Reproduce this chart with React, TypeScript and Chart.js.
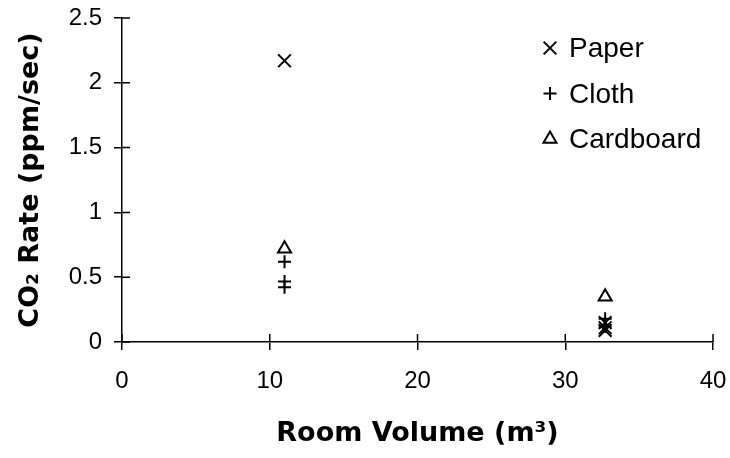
import React, { useEffect, useRef } from "react";
import { Chart, registerables } from "chart.js";

Chart.register(...registerables);

// Data
const paperX = [11.0, 32.7, 32.7, 32.7];
const paperY = [2.17, 0.15, 0.11, 0.09];
const clothX = [11.0, 11.0, 11.0, 32.7, 32.7];
const clothY = [0.62, 0.467, 0.423, 0.18, 0.12];
const cardboardX = [11.0, 32.7];
const cardboardY = [0.72, 0.35];

const seriesLabels = ["Paper", "Cloth", "Cardboard"];
const xTicks = [0, 10, 20, 30, 40];
const yTicks = [0, 0.5, 1, 1.5, 2, 2.5];

const FONT = "'Liberation Sans', Arial, sans-serif";
const TITLE_FONT = "'DejaVu Sans', 'Liberation Sans', Arial, sans-serif";

function pts(xs: number[], ys: number[]) {
  return xs.map((x, i) => ({ x, y: ys[i] }));
}

function drawMarker(ctx: CanvasRenderingContext2D, style: string, x: number, y: number, r: number) {
  ctx.beginPath();
  if (style === "crossRot") {
    const o = Math.cos(Math.PI / 4) * r;
    ctx.moveTo(x - o, y - o);
    ctx.lineTo(x + o, y + o);
    ctx.moveTo(x + o, y - o);
    ctx.lineTo(x - o, y + o);
  } else if (style === "cross") {
    ctx.moveTo(x - r, y);
    ctx.lineTo(x + r, y);
    ctx.moveTo(x, y - r);
    ctx.lineTo(x, y + r);
  } else {
    let rad = 0;
    ctx.moveTo(x + Math.sin(rad) * r, y - Math.cos(rad) * r);
    rad += (2 * Math.PI) / 3;
    ctx.lineTo(x + Math.sin(rad) * r, y - Math.cos(rad) * r);
    rad += (2 * Math.PI) / 3;
    ctx.lineTo(x + Math.sin(rad) * r, y - Math.cos(rad) * r);
    ctx.closePath();
  }
  ctx.stroke();
}

const innerTicks = {
  id: "innerTicks",
  afterDraw(chart: any) {
    const ctx = chart.ctx;
    const x = chart.scales.x;
    const y = chart.scales.y;
    const area = chart.chartArea;
    ctx.save();
    ctx.strokeStyle = "#000";
    ctx.lineWidth = 1.5;
    ctx.beginPath();
    xTicks.forEach((v) => {
      const px = x.getPixelForValue(v);
      ctx.moveTo(px, area.bottom);
      ctx.lineTo(px, area.bottom - 8);
    });
    yTicks.forEach((v) => {
      const py = y.getPixelForValue(v);
      ctx.moveTo(area.left, py);
      ctx.lineTo(area.left + 8, py);
    });
    ctx.stroke();
    ctx.restore();
  },
};

const customLegend = {
  id: "customLegend",
  afterDraw(chart: any) {
    const ctx = chart.ctx;
    ctx.save();
    ctx.fillStyle = "#000";
    ctx.strokeStyle = "#000";
    ctx.lineWidth = 2;
    ctx.font = `28px ${FONT}`;
    ctx.textAlign = "left";
    ctx.textBaseline = "alphabetic";
    const baseY = 57;
    const gap = 45.5;
    chart.data.datasets.forEach((ds: any, i: number) => {
      const by = baseY + i * gap;
      const style = ds.pointStyle;
      const r = style === "crossRot" ? 9 : style === "cross" ? 6.5 : 7.5;
      drawMarker(ctx, style, 550, by - 9, r);
      ctx.fillText(ds.label, 569, by);
    });
    ctx.restore();
  },
};

export default function App() {
  const ref = useRef<HTMLCanvasElement | null>(null);
  useEffect(() => {
    if (!ref.current) return;
    const chart = new Chart(ref.current, {
      type: "scatter",
      data: {
        datasets: [
          {
            label: seriesLabels[0],
            data: pts(paperX, paperY),
            pointStyle: "crossRot",
            pointRadius: 9,
            borderColor: "#000",
            backgroundColor: "rgba(0,0,0,0)",
            borderWidth: 2,
          },
          {
            label: seriesLabels[1],
            data: pts(clothX, clothY),
            pointStyle: "cross",
            pointRadius: 6.5,
            borderColor: "#000",
            backgroundColor: "rgba(0,0,0,0)",
            borderWidth: 2,
          },
          {
            label: seriesLabels[2],
            data: pts(cardboardX, cardboardY),
            pointStyle: "triangle",
            pointRadius: 7.5,
            borderColor: "#000",
            backgroundColor: "rgba(0,0,0,0)",
            borderWidth: 2,
          },
        ],
      },
      options: {
        responsive: false,
        animation: false,
        layout: { padding: { top: 18, right: 17, left: 0, bottom: 0 } },
        plugins: {
          legend: { display: false },
          tooltip: { enabled: false },
        },
        scales: {
          x: {
            type: "linear",
            min: 0,
            max: 40,
            afterFit: (s: any) => {
              s.height = 116;
              s.paddingLeft = 0;
              s.paddingRight = 0;
              s.paddingTop = 0;
              s.paddingBottom = 0;
            },
            afterBuildTicks: (s: any) => {
              s.ticks = xTicks.map((v) => ({ value: v }));
            },
            grid: {
              drawOnChartArea: false,
              drawTicks: true,
              tickLength: 8,
              color: "#000",
              lineWidth: 1.5,
            },
            border: { display: true, color: "#000", width: 1.5 },
            ticks: {
              color: "#000",
              padding: 17,
              font: { family: FONT, size: 24 },
              callback: (v: any) => String(v),
            },
            title: {
              display: true,
              text: "Room Volume (m³)",
              color: "#000",
              font: { family: TITLE_FONT, size: 27, weight: "bold" },
              padding: { top: 0, bottom: 8 },
            },
          },
          y: {
            type: "linear",
            min: 0,
            max: 2.5,
            afterFit: (s: any) => {
              s.width = 122;
              s.paddingLeft = 0;
              s.paddingRight = 0;
              s.paddingTop = 0;
              s.paddingBottom = 0;
            },
            afterBuildTicks: (s: any) => {
              s.ticks = yTicks.map((v) => ({ value: v }));
            },
            grid: {
              drawOnChartArea: false,
              drawTicks: true,
              tickLength: 8,
              color: "#000",
              lineWidth: 1.5,
            },
            border: { display: true, color: "#000", width: 1.5 },
            ticks: {
              color: "#000",
              padding: 12,
              font: { family: FONT, size: 24 },
              callback: (v: any) => String(v),
            },
            title: {
              display: true,
              text: "CO₂ Rate (ppm/sec)",
              color: "#000",
              font: { family: TITLE_FONT, size: 27, weight: "bold" },
              padding: { top: 15, bottom: 0 },
            },
          },
        },
      },
      plugins: [innerTicks, customLegend],
    });
    return () => chart.destroy();
  }, []);
  return (
    <div style={{ position: "absolute", left: 0, top: 0, width: 730, height: 458, background: "#fff" }}>
      <canvas ref={ref} width={730} height={458} />
    </div>
  );
}
